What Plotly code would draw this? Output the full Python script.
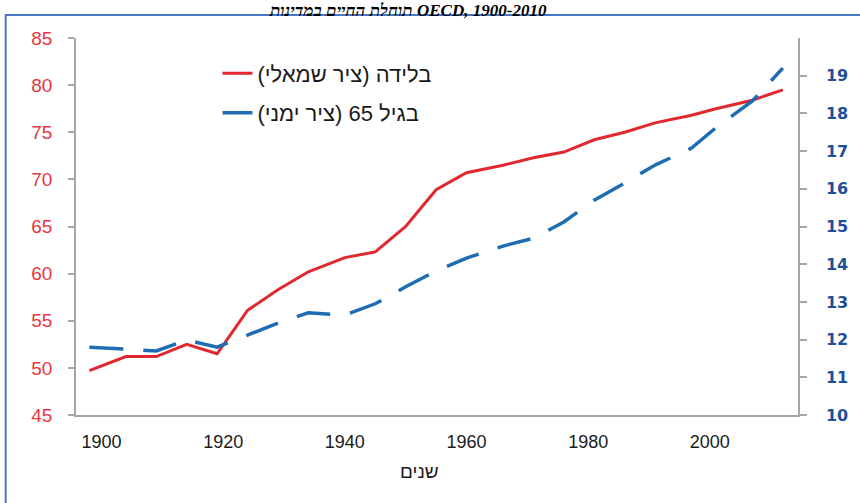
import plotly.graph_objects as go

# ---- data ----
years = [1898, 1904, 1909, 1914, 1919, 1924, 1929, 1934, 1940, 1945, 1950, 1955,
         1960, 1966, 1971, 1976, 1981, 1986, 1991, 1997, 2001, 2007, 2012]
at_birth = [49.7, 51.2, 51.2, 52.5, 51.5, 56.1, 58.3, 60.2, 61.7, 62.3, 65.0, 68.9,
            70.7, 71.5, 72.3, 72.9, 74.2, 75.0, 76.0, 76.8, 77.5, 78.4, 79.5]
at_65 = [11.80, 11.75, 11.70, 11.99, 11.80, 12.12, 12.44, 12.71, 12.65, 12.95, 13.40, 13.82,
         14.16, 14.48, 14.69, 15.12, 15.70, 16.15, 16.63, 17.08, 17.62, 18.33, 19.20]

left_ticks = [45, 50, 55, 60, 65, 70, 75, 80, 85]
right_ticks = [10, 11, 12, 13, 14, 15, 16, 17, 18, 19]
x_labels = [1900, 1920, 1940, 1960, 1980, 2000]
x_tick_marks = [1895.8, 1915.8, 1935.8, 1955.8, 1975.8, 1995.8]

name_birth = "\u200fבלידה (ציר שמאלי)\u200f"
name_65 = "\u200fבגיל 65 (ציר ימני)\u200f"
title_txt = "\u200fתוחלת החיים במדינות OECD, 1900-2010\u200f"
x_title = "שנים"

RED = "#E0292E"
BLUE = "#1E6DB3"
AXIS = "#A6A6A6"
XR = [1895.8, 2014.5]

fig = go.Figure()
fig.add_trace(go.Scatter(x=years, y=at_birth, name=name_birth, mode="lines",
                         line=dict(color=RED, width=3), legendgroup="a"))
fig.add_trace(go.Scatter(x=years, y=at_65, name=name_65, mode="lines", yaxis="y2",
                         line=dict(color=BLUE, width=3.5, dash="34px,20px"), legendgroup="b"))

fig.update_layout(
    width=860, height=503,
    margin=dict(l=76, r=55, t=38, b=88),
    paper_bgcolor="white", plot_bgcolor="white",
    font=dict(family="Liberation Sans, Arial, sans-serif", color="#1a1a1a"),
    showlegend=True,
    legend=dict(x=0.196, y=0.962, xanchor="left", yanchor="top",
                font=dict(size=22, color="#1a1a1a"), bgcolor="rgba(0,0,0,0)",
                tracegroupgap=8),
    xaxis=dict(range=XR, tickvals=x_labels, ticks="", showgrid=False, zeroline=False,
               showline=True, linecolor=AXIS, linewidth=1.5, ticklabelstandoff=10,
               tickfont=dict(size=18, color="#1a1a1a")),
    xaxis2=dict(range=XR, overlaying="x", side="bottom", anchor="y", tickvals=x_tick_marks,
                ticks="outside", ticklen=6, tickcolor=AXIS, tickwidth=1.5,
                showticklabels=False, showgrid=False, zeroline=False, showline=False),
    yaxis=dict(range=[45, 85], tickvals=left_ticks, ticks="outside", ticklen=6,
               tickcolor=AXIS, tickwidth=1.5, showgrid=False, zeroline=False,
               showline=True, linecolor=AXIS, linewidth=1.5, ticklabelstandoff=12,
               tickfont=dict(size=19, color="#E8363E")),
    yaxis2=dict(range=[10, 20], tickvals=right_ticks, overlaying="y", side="right",
                ticks="outside", ticklen=7, tickcolor=AXIS, tickwidth=1.5,
                showgrid=False, zeroline=False, showline=True, linecolor=AXIS, linewidth=1.5,
                ticklabelstandoff=16,
                tickfont=dict(size=16, color="#1F4E9A", family="DejaVu Sans", weight="bold")),
    shapes=[dict(type="rect", xref="paper", yref="paper", x0=-0.0974, x1=1.09,
                 y0=-0.27, y1=1.061, line=dict(color="#4A78C0", width=2),
                 fillcolor="rgba(0,0,0,0)", layer="below")],
    annotations=[
        dict(text=x_title, xref="paper", yref="paper", x=0.476, y=-0.151,
             showarrow=False, xanchor="center", yanchor="middle",
             font=dict(size=19, color="#1a1a1a")),
        dict(text=title_txt, xref="paper", yref="paper", x=0.4595, y=1.1008,
             showarrow=False, xanchor="center", yanchor="top", borderpad=0,
             font=dict(size=17, color="black", family="Liberation Serif, Times New Roman, serif",
                       weight="bold", style="italic")),
    ],
)

fig.write_html("out.html")
